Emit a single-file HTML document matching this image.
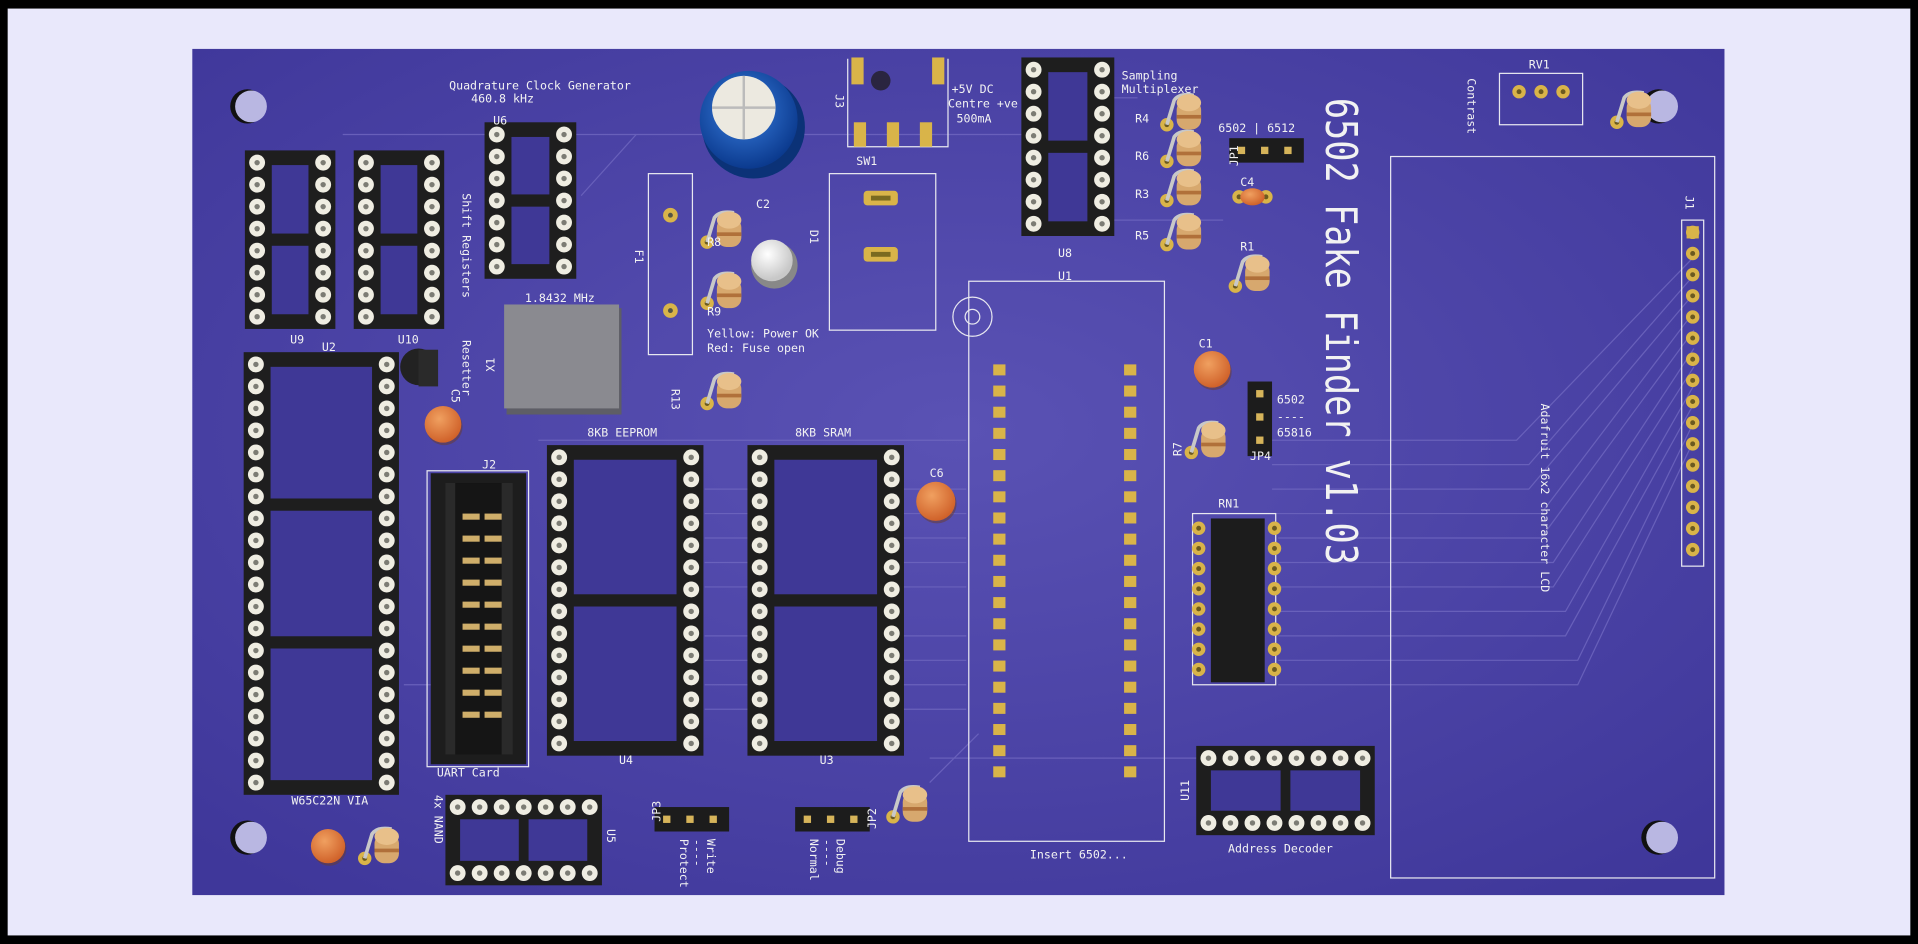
<!DOCTYPE html>
<html><head><meta charset="utf-8"><style>
html,body{margin:0;padding:0;background:#000;}
svg{display:block;}
text{font-family:"DejaVu Sans Mono","Liberation Mono",monospace;fill:#f2f2f2;}
</style></head><body>
<svg id="s" width="1918" height="944" viewBox="0 0 1568 772" xmlns="http://www.w3.org/2000/svg">
<defs>
<radialGradient id="cap" cx="40%" cy="35%" r="65%"><stop offset="0" stop-color="#f0a060"/><stop offset="1" stop-color="#d0622a"/></radialGradient>
<radialGradient id="blue" cx="45%" cy="40%" r="60%"><stop offset="0" stop-color="#3a7fe0"/><stop offset="1" stop-color="#0b3a8e"/></radialGradient>
<radialGradient id="led" cx="40%" cy="35%" r="60%"><stop offset="0" stop-color="#ffffff"/><stop offset="1" stop-color="#c8c8c8"/></radialGradient>
<radialGradient id="brd" cx="50%" cy="45%" r="70%"><stop offset="0" stop-color="#5a52b4"/><stop offset="1" stop-color="#3f379a"/></radialGradient>
</defs>
<rect x="0" y="0" width="1568" height="772" fill="#000"/>
<rect x="6" y="7" width="1556" height="758" fill="#e9e8fb"/>
<rect x="157" y="40" width="1253" height="692" fill="url(#brd)"/>
<g id="traces" stroke="#7068c0" stroke-width="1" fill="none" opacity="0.8">
<path d="M280 110 L860 110"/><path d="M475 160 L520 110"/><path d="M1385 210 L1240 360 L1040 360"/>
<path d="M1385 225 L1250 380 L1040 380"/><path d="M1385 240 L1250 400 L1040 400"/><path d="M1385 255 L1260 420 L1040 420"/>
<path d="M1385 270 L1260 440 L1045 440"/><path d="M1385 285 L1270 460 L1045 460"/><path d="M1385 300 L1270 480 L1045 480"/>
<path d="M1385 315 L1280 500 L1045 500"/><path d="M1385 330 L1280 520 L1045 520"/><path d="M1385 345 L1290 540 L1045 540"/>
<path d="M1385 360 L1290 560 L1045 560"/><path d="M576 400 L790 400"/><path d="M576 420 L790 420"/><path d="M576 440 L790 440"/>
<path d="M576 460 L790 460"/><path d="M576 480 L790 480"/><path d="M576 520 L790 520"/><path d="M576 540 L790 540"/>
<path d="M576 560 L790 560"/><path d="M576 580 L790 580"/><path d="M440 360 L790 360"/><path d="M910 180 L1000 180"/>
<path d="M910 80 L930 80"/><path d="M330 560 L360 560"/><path d="M760 620 L980 620"/><path d="M760 640 L800 600"/>
</g>
<!-- hole -->
<g fill="#b9b7e2">
<circle cx="202" cy="87" r="14" fill="#111"/><circle cx="205" cy="87" r="13"/>
<circle cx="1356" cy="87" r="14" fill="#111"/><circle cx="1359" cy="87" r="13"/>
<circle cx="202" cy="685" r="14" fill="#111"/><circle cx="205" cy="685" r="13"/>
<circle cx="1356" cy="685" r="14" fill="#111"/><circle cx="1359" cy="685" r="13"/>
</g>
<!-- silkscreen outlines -->
<g stroke="#e8e8f0" stroke-width="1" fill="none">
<rect x="792" y="230" width="160" height="458"/>
<circle cx="795" cy="259" r="16"/><circle cx="795" cy="259" r="6"/>
<rect x="1137" y="128" width="265" height="590"/>
<rect x="1375" y="180" width="18" height="283"/>
<rect x="530" y="142" width="36" height="148"/>
<rect x="678" y="142" width="87" height="128"/>
<rect x="1226" y="60" width="68" height="42"/>
<rect x="349" y="385" width="83" height="242"/>
<rect x="975" y="420" width="68" height="140"/>
<path d="M693 48 V120 H775 V48"/>
</g>
<!-- big cap C2 -->
<circle cx="616" cy="104" r="42" fill="#0b3277"/>
<circle cx="612" cy="98" r="40" fill="url(#blue)"/>
<circle cx="608" cy="88" r="26" fill="#ece9e0"/>
<path d="M608 62 V114 M582 88 H634" stroke="#bbb" stroke-width="2"/>
<!-- X1 crystal -->
<rect x="414" y="252" width="94" height="87" fill="#5e5e66"/>
<rect x="412" y="249" width="94" height="85" fill="#8a8a90"/>
<!-- LED -->
<circle cx="633" cy="217" r="19" fill="#888"/>
<circle cx="631" cy="213" r="17" fill="url(#led)"/>
<!-- J3 -->
<rect x="696" y="47" width="10" height="22" fill="#d9b449"/><rect x="762" y="47" width="10" height="22" fill="#d9b449"/>
<circle cx="720" cy="66" r="8" fill="#2a2540"/>
<rect x="698" y="100" width="10" height="20" fill="#d9b449"/><rect x="725" y="100" width="10" height="20" fill="#d9b449"/><rect x="752" y="100" width="10" height="20" fill="#d9b449"/>
<!-- SW1 pads -->
<rect x="706" y="156" width="28" height="12" rx="3" fill="#d9b449"/><rect x="706" y="202" width="28" height="12" rx="3" fill="#d9b449"/>
<rect x="712" y="160" width="16" height="4" fill="#7a6a20"/><rect x="712" y="206" width="16" height="4" fill="#7a6a20"/>
<circle cx="548" cy="176" r="6" fill="#d9b449"/><circle cx="548" cy="254" r="6" fill="#d9b449"/>
<circle cx="548" cy="176" r="2" fill="#554"/><circle cx="548" cy="254" r="2" fill="#554"/>
<!-- RN1 -->
<rect x="990" y="424" width="44" height="134" fill="#1c1c1c"/>
<!-- J2 box header -->
<rect x="352" y="387" width="78" height="238" fill="#1d1d1d"/>
<rect x="364" y="395" width="55" height="222" fill="#2a2a2a"/>
<rect x="372" y="395" width="38" height="222" fill="#151515"/>
<!-- transistor -->
<circle cx="342" cy="300" r="15" fill="#222"/><rect x="342" y="286" width="16" height="30" fill="#2a2a2a"/>
<g id="g"></g>
<!-- text labels -->
<g font-size="9.5">
<text x="367" y="73">Quadrature Clock Generator</text>
<text x="385" y="84">460.8 kHz</text>
<text x="403" y="102">U6</text>
<text x="429" y="247">1.8432 MHz</text>
<text x="237" y="281">U9</text>
<text x="325" y="281">U10</text>
<text x="263" y="287">U2</text>
<text x="578" y="276">Yellow: Power OK</text>
<text x="578" y="288">Red: Fuse open</text>
<text x="618" y="170">C2</text>
<text x="700" y="135">SW1</text>
<text x="778" y="76">+5V DC</text>
<text x="775" y="88">Centre +ve</text>
<text x="782" y="100">500mA</text>
<text x="917" y="65">Sampling</text>
<text x="917" y="76">Multiplexer</text>
<text x="928" y="100">R4</text><text x="928" y="131">R6</text><text x="928" y="162">R3</text><text x="928" y="196">R5</text>
<text x="996" y="108">6502 | 6512</text>
<text x="1014" y="152">C4</text>
<text x="1014" y="205">R1</text>
<text x="865" y="210">U8</text>
<text x="865" y="229">U1</text>
<text x="980" y="284">C1</text>
<text x="1044" y="330">6502</text>
<text x="1044" y="344">----</text>
<text x="1044" y="357">65816</text>
<text x="1022" y="376">JP4</text>
<text x="996" y="415">RN1</text>
<text x="1250" y="56">RV1</text>
<text x="480" y="357">8KB EEPROM</text>
<text x="650" y="357">8KB SRAM</text>
<text x="760" y="390">C6</text>
<text x="394" y="383">J2</text>
<text x="357" y="635">UART Card</text>
<text x="506" y="625">U4</text>
<text x="670" y="625">U3</text>
<text x="238" y="658">W65C22N VIA</text>
<text x="842" y="702">Insert 6502...</text>
<text x="1004" y="697">Address Decoder</text>
<text x="578" y="201">R8</text><text x="578" y="258">R9</text>
</g>
<g font-size="9.5">
<text transform="translate(378,158) rotate(90)">Shift Registers</text>
<text transform="translate(378,278) rotate(90)">Resetter</text>
<text transform="translate(519,204) rotate(90)">F1</text>
<text transform="translate(683,77) rotate(90)">J3</text>
<text transform="translate(662,188) rotate(90)">D1</text>
<text transform="translate(1200,64) rotate(90)">Contrast</text>
<text transform="translate(1260,330) rotate(90)">Adafruit 16x2 character LCD</text>
<text transform="translate(1378,160) rotate(90)">J1</text>
<text transform="translate(1012,136) rotate(-90)">JP1</text>
<text transform="translate(404,304) rotate(-90)">X1</text>
<text transform="translate(369,318) rotate(90)">C5</text>
<text transform="translate(549,318) rotate(90)">R13</text>
<text transform="translate(966,373) rotate(-90)">R7</text>
<text transform="translate(972,655) rotate(-90)">U11</text>
<text transform="translate(496,678) rotate(90)">U5</text>
<text transform="translate(355,650) rotate(90)">4x NAND</text>
<text transform="translate(578,686) rotate(90)">Write</text>
<text transform="translate(567,686) rotate(90)">----</text>
<text transform="translate(556,686) rotate(90)">Protect</text>
<text transform="translate(684,686) rotate(90)">Debug</text>
<text transform="translate(673,686) rotate(90)">----</text>
<text transform="translate(662,686) rotate(90)">Normal</text>
<text transform="translate(540,672) rotate(-90)">JP3</text>
<text transform="translate(716,678) rotate(-90)">JP2</text>
</g>
<text transform="translate(1084,80) rotate(90)" font-size="36" textLength="382" lengthAdjust="spacingAndGlyphs" style="font-family:'DejaVu Sans Mono',monospace" fill="#fff">6502 Fake Finder v1.03</text>
</svg>
<script>
var NS="http://www.w3.org/2000/svg",G=document.getElementById('g');
function el(t,a){var e=document.createElementNS(NS,t);for(var k in a)e.setAttribute(k,a[k]);G.appendChild(e);return e;}
function pin(x,y){el('circle',{cx:x,cy:y,r:6.5,fill:'#efede2'});el('circle',{cx:x,cy:y,r:2.2,fill:'#7c7c74'});}
function gpad(x,y){el('circle',{cx:x,cy:y,r:5.5,fill:'#d9b449'});el('circle',{cx:x,cy:y,r:2,fill:'#6b5a20'});}
function sockV(x1,x2,y0,n,bars){
 var y1=y0+(n-1)*18;
 el('rect',{x:x1-10,y:y0-10,width:x2-x1+20,height:y1-y0+20,fill:'#1e1e1e'});
 var ix=x1+12,iw=x2-x1-24;
 var segs=bars+1,h=(y1-y0-4)/segs;
 for(var i=0;i<segs;i++){el('rect',{x:ix,y:y0+2+i*h+(i?5:0),width:iw,height:h-(i?5:0)-(i<segs-1?5:0),fill:'#3f3896'});}
 for(var i=0;i<n;i++){pin(x1,y0+i*18);pin(x2,y0+i*18);}
}
function sockH(y1,y2,x0,n){
 var x1=x0+(n-1)*18;
 el('rect',{x:x0-10,y:y1-10,width:x1-x0+20,height:y2-y1+20,fill:'#1e1e1e'});
 var w=(x1-x0-4)/2;
 for(var i=0;i<2;i++)el('rect',{x:x0+2+i*w+(i?4:0),y:y1+10,width:w-4,height:y2-y1-20,fill:'#3f3896'});
 for(var i=0;i<n;i++){pin(x0+i*18,y1);pin(x0+i*18,y2);}
}
sockV(210,264,133,8,1);
sockV(299,353,133,8,1);
sockV(406,461,110,7,1);
sockV(209,316,298,20,2);
sockV(457,565,374,14,1);
sockV(621,729,374,14,1);
sockV(845,901,57,8,1);
sockH(620,673,988,8);
sockH(660,714,374,7);
for(var i=0;i<20;i++){el('rect',{x:812,y:298+i*17.3,width:10,height:9,fill:'#d9b449'});el('rect',{x:919,y:298+i*17.3,width:10,height:9,fill:'#d9b449'});}
for(var i=0;i<8;i++){gpad(980,432+i*16.5);gpad(1042,432+i*16.5);}
for(var i=0;i<16;i++){gpad(1384,190+i*17.3);}
el('rect',{x:1379,y:185,width:10,height:10,fill:'#d9b449'});
for(var i=0;i<10;i++){el('rect',{x:378,y:420+i*18,width:14,height:5,fill:'#cfae6a'});el('rect',{x:396,y:420+i*18,width:14,height:5,fill:'#cfae6a'});}
[1242,1260,1278].forEach(function(x){gpad(x,75);});
function hdr(x,y,n,vert){var w=vert?20:n*19+4,h=vert?n*19+4:20;el('rect',{x:x,y:y,width:w,height:h,fill:'#1c1c1c'});
 for(var i=0;i<n;i++){var px=vert?x+7:x+7+i*19,py=vert?y+7+i*19:y+7;el('rect',{x:px,y:py,width:6,height:6,fill:'#d6b45a'});}}
hdr(1005,113,3,false);hdr(1020,312,3,true);hdr(535,660,3,false);hdr(650,660,3,false);
function cap(x,y,r){el('circle',{cx:x+1,cy:y+2,r:r,fill:'#6a3b2a',opacity:0.5});el('circle',{cx:x,cy:y,r:r,fill:'url(#cap)'});}
cap(362,347,15);cap(765,410,16);cap(991,302,15);cap(268,692,14);
gpad(1013,161);gpad(1035,161);
el('ellipse',{cx:1024,cy:161,rx:10,ry:7,fill:'url(#cap)'});
function res(x,y){gpad(x-14,y+12);el('path',{d:'M'+(x-14)+' '+(y+12)+' L'+(x-8)+' '+(y-8)+' Q'+(x-4)+' '+(y-14)+' '+(x+8)+' '+(y-12),stroke:'#c8c8c8','stroke-width':3,fill:'none'});
 el('rect',{x:x-6,y:y-8,width:20,height:24,rx:8,fill:'#d7a86e'});el('ellipse',{cx:x+4,cy:y-6,rx:10,ry:7,fill:'#e8c08a'});
 el('rect',{x:x-6,y:y+4,width:20,height:3,fill:'#b0703a'});}
res(968,90);res(968,120);res(968,152);res(968,188);res(1024,222);res(988,358);
res(592,186);res(592,236);res(592,318);res(312,690);res(744,656);res(1336,88);
</script>
</body></html>
